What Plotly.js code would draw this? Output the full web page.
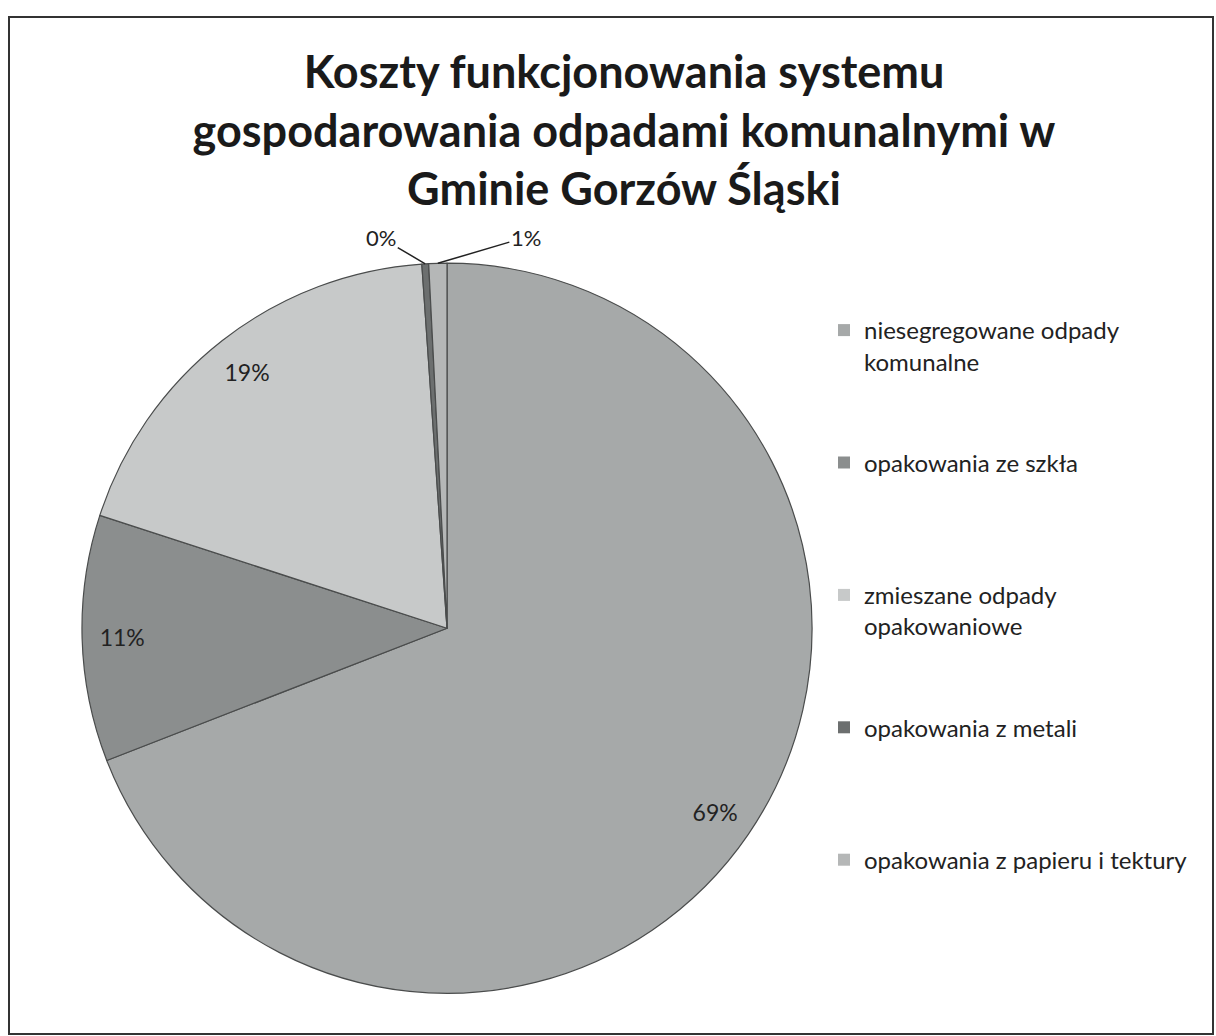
<!DOCTYPE html>
<html>
<head>
<meta charset="utf-8">
<script src="https://cdn.plot.ly/plotly-3.0.1.min.js"></script>
<style>html,body{margin:0;padding:0;background:#fff;}#chart{width:1216px;height:1036px;}</style>
</head>
<body>
<div id="chart"></div>
<script>
const categories = ['niesegregowane odpady komunalne', 'opakowania ze szkła', 'zmieszane odpady opakowaniowe', 'opakowania z metali', 'opakowania z papieru i tektury'];
const legendNames = ['niesegregowane odpady<br>komunalne', 'opakowania ze szkła', 'zmieszane odpady<br>opakowaniowe', 'opakowania z metali', 'opakowania z papieru i tektury'];
const shares = [69.1, 10.9, 18.9, 0.3, 0.8];
const percentLabels = ['69%', '11%', '19%', '0%', '1%'];
const sliceColors = ['#a6a9a9', '#8b8e8e', '#c7c9c9', '#6c6f6f', '#b5b7b7'];
const titleText = 'Koszty funkcjonowania systemu<br>gospodarowania odpadami komunalnymi w<br>Gminie Gorzów Śląski';

const W = 1216, H = 1036;
const M = {l: 9, r: 3, t: 17, b: 2};
const pieDomain = {x: [0.0606, 0.667], y: [0.040, 0.758]};
const font = 'Lato, "Open Sans", sans-serif';

const traces = [
  {
    type: 'pie', values: shares, labels: categories, sort: false,
    direction: 'clockwise', rotation: 0, textinfo: 'none',
    marker: {colors: sliceColors, line: {color: '#4a4c4c', width: 1.2}},
    domain: pieDomain, showlegend: false, hoverinfo: 'label+percent'
  },
  {
    type: 'pie', values: shares, labels: categories, sort: false,
    direction: 'clockwise', rotation: 0, hole: 0.78,
    text: percentLabels.map((t, i) => i < 3 ? t : ''), textinfo: 'text',
    textposition: 'inside',
    insidetextorientation: 'horizontal',
    textfont: {family: font, size: 23, color: '#222'},
    marker: {colors: sliceColors.map(() => 'rgba(0,0,0,0)'), line: {width: 0}},
    domain: pieDomain, showlegend: false, hoverinfo: 'skip'
  }
];

categories.forEach((c, i) => {
  const nm = legendNames[i].indexOf('<br>') >= 0 ? legendNames[i] : legendNames[i] + '<br> ';
  traces.push({
    type: 'scatter', x: [null], y: [null], mode: 'markers', name: nm,
    legendgroup: 'g' + i,
    marker: {symbol: 'square', size: 12, color: sliceColors[i]},
    hoverinfo: 'skip'
  });
});

// leader-line labels for the two tiny slices, positioned from the data angles
const pw = W - M.l - M.r, ph = H - M.t - M.b;
const cxPx = pw * (pieDomain.x[0] + pieDomain.x[1]) / 2;
const cyPx = ph * (1 - (pieDomain.y[0] + pieDomain.y[1]) / 2);
const R = Math.min(pw * (pieDomain.x[1] - pieDomain.x[0]), ph * (pieDomain.y[1] - pieDomain.y[0])) / 2;
const total = shares.reduce((a, b) => a + b, 0);
const annotations = [];
const offsets = {3: [-44, -26], 4: [88, -26]};
let cum = 0;
shares.forEach((v, i) => {
  const mid = (cum + v / 2) / total * 2 * Math.PI;
  cum += v;
  if (!offsets[i]) return;
  const px = cxPx + R * Math.sin(mid), py = cyPx - R * Math.cos(mid);
  annotations.push({
    xref: 'paper', yref: 'paper', x: px / pw, y: 1 - py / ph,
    text: percentLabels[i], showarrow: true, arrowhead: 0, arrowwidth: 1.5,
    arrowcolor: '#222', ax: offsets[i][0], ay: offsets[i][1],
    font: {family: font, size: 22, color: '#222'}
  });
});

const layout = {
  width: W, height: H,
  margin: M,
  paper_bgcolor: '#ffffff', plot_bgcolor: 'rgba(0,0,0,0)',
  font: {family: font, color: '#222'},
  title: {
    text: titleText, font: {family: font, size: 45, color: '#1a1a1a', weight: 700},
    xref: 'container', yref: 'container', x: 624 / W, xanchor: 'center',
    y: 1 - 88 / H, yanchor: 'top'
  },
  xaxis: {visible: false}, yaxis: {visible: false},
  legend: {
    xref: 'paper', yref: 'paper', x: (824 - M.l) / pw, xanchor: 'left',
    y: 1 - (308 - M.t) / ph, yanchor: 'top', valign: 'top',
    font: {family: font, size: 24, color: '#222'},
    tracegroupgap: 67, bgcolor: 'rgba(0,0,0,0)'
  },
  annotations: annotations,
  shapes: [{type: 'rect', xref: 'paper', yref: 'paper', x0: 0, x1: 1, y0: 0, y1: 1,
            line: {color: '#333', width: 2}}]
};

Plotly.newPlot('chart', traces, layout, {displayModeBar: false, staticPlot: true});
</script>
</body>
</html>
